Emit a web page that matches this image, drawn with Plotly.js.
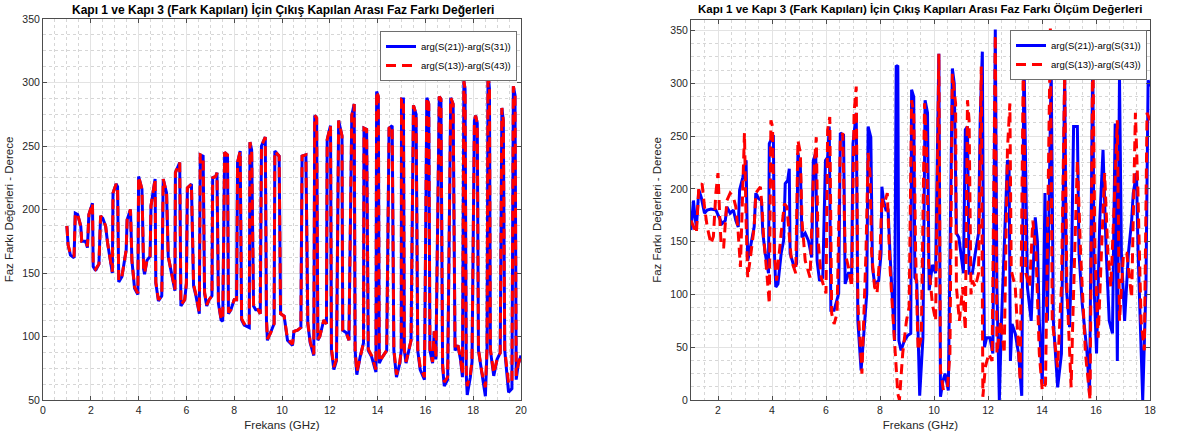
<!DOCTYPE html>
<html>
<head>
<meta charset="utf-8">
<script src="https://cdn.plot.ly/plotly-3.0.1.min.js"></script>
<style>html,body{margin:0;padding:0;background:#fff;}#chart{width:1184px;height:436px;}</style>
</head>
<body>
<div id="chart"></div>
<script>
// ---------- Left panel (simulation) ----------
const freqLeft = [1.00,1.05,1.15,1.30,1.35,1.45,1.58,1.62,1.78,1.86,1.92,2.07,2.10,2.20,2.34,2.41,2.50,2.62,2.70,2.90,2.93,3.06,3.12,3.17,3.30,3.42,3.48,3.52,3.66,3.72,3.83,3.97,4.00,4.14,4.21,4.25,4.35,4.48,4.52,4.69,4.72,4.83,4.97,5.03,5.17,5.24,5.52,5.54,5.72,5.77,5.93,6.00,6.04,6.21,6.30,6.40,6.54,6.58,6.70,6.76,6.85,6.95,7.07,7.10,7.23,7.28,7.34,7.45,7.52,7.60,7.72,7.76,7.86,8.00,8.10,8.14,8.25,8.31,8.42,8.63,8.66,8.73,8.81,8.90,9.00,9.09,9.14,9.30,9.35,9.39,9.53,9.67,9.70,9.88,9.94,10.09,10.23,10.44,10.50,10.65,10.79,10.84,11.00,11.08,11.18,11.33,11.37,11.45,11.50,11.58,11.75,11.86,11.89,12.03,12.07,12.17,12.28,12.37,12.51,12.54,12.69,12.80,12.92,13.02,13.06,13.13,13.27,13.41,13.43,13.54,13.61,13.75,13.93,13.96,14.03,14.07,14.17,14.38,14.48,14.61,14.68,14.79,14.93,14.99,15.00,15.08,15.12,15.19,15.40,15.50,15.61,15.68,15.78,15.96,16.06,16.14,16.19,16.30,16.37,16.44,16.58,16.65,16.72,16.79,16.93,17.06,17.16,17.24,17.36,17.47,17.55,17.61,17.66,17.71,17.75,17.88,17.95,18.05,18.10,18.17,18.22,18.36,18.51,18.58,18.62,18.68,18.72,18.86,19.00,19.13,19.20,19.26,19.32,19.48,19.62,19.68,19.75,19.80,19.88,20.00];
const simS21S31 = [187,172,164,162,197,196,187,175,175,170,196,205,155,152,157,195,193,187,174,150,213,220,218,143,147,159,168,192,200,160,138,133,226,216,153,149,160,163,203,224,142,128,132,224,213,163,136,229,237,124,129,142,217,220,140,132,118,243,242,134,124,129,132,225,226,229,126,113,112,245,243,118,121,129,129,237,246,113,109,107,253,247,124,121,121,118,250,257,113,97,103,110,246,242,118,116,97,93,104,105,107,242,243,110,95,85,274,272,97,100,113,110,255,266,89,74,81,270,258,105,103,97,274,283,89,70,84,95,264,263,89,84,72,293,289,79,83,89,264,266,89,68,79,89,287,287,89,79,97,282,275,89,74,66,288,283,89,79,104,82,289,287,76,61,66,288,283,89,93,82,68,301,295,70,54,68,80,270,274,268,89,70,53,90,308,295,89,69,82,87,280,270,89,56,59,297,290,66,78,85];
const simS13S43 = [187,172,165,163,197,196,187,175,175,171,196,205,156,153,157,195,193,187,174,151,213,220,218,144,147,159,168,192,200,160,139,134,226,216,154,150,160,163,203,224,143,129,132,224,213,163,137,229,237,125,129,142,217,220,141,133,119,243,242,135,125,129,132,225,226,229,127,114,113,245,243,119,121,129,129,237,246,114,110,108,253,247,124,121,121,118,250,257,114,98,103,110,246,242,118,116,98,94,104,105,107,242,243,111,96,86,274,272,98,100,113,110,255,266,90,76,82,270,258,105,103,97,274,283,90,72,84,95,264,263,90,85,74,293,289,80,83,89,264,266,90,70,80,89,287,287,90,80,97,282,275,90,76,68,288,283,90,80,104,83,289,287,78,64,68,288,283,90,93,83,70,301,295,72,61,70,81,270,274,268,90,72,60,91,308,295,90,71,82,87,280,270,90,63,64,297,290,69,78,85];

// ---------- Right panel (measurement) ----------
const freqMeasA = [1.00,1.09,1.15,1.20,1.29,1.38,1.50,1.60,1.74,1.92,2.04,2.15,2.27,2.33,2.45,2.57,2.66,2.75,2.80,2.92,3.04,3.10,3.18,3.28,3.34,3.40,3.50,3.61,3.66,3.75,3.87,3.90,4.05,4.09,4.14,4.22,4.34,4.43,4.49,4.58,4.64,4.67,4.82,4.91,4.96,5.05,5.11,5.23,5.35,5.47,5.53,5.62,5.67,5.76,5.88,5.98,6.06,6.12,6.18,6.30,6.41,6.47,6.53,6.65,6.71,6.83,6.95,7.00,7.12,7.18,7.30,7.42,7.51,7.56,7.66,7.72,7.80,7.95,8.04,8.07,8.13,8.22,8.30,8.37,8.49,8.54,8.60,8.66,8.70,8.78,8.90,9.02,9.14,9.17,9.25,9.29,9.36,9.47,9.59,9.67,9.76,9.82,9.94,10.06,10.18,10.24,10.33,10.41,10.53,10.60,10.68,10.75,10.83,10.92,11.00,11.09,11.16,11.24,11.30,11.42,11.53,11.65,11.71,11.79,11.83,11.87,11.95,12.07,12.18,12.27,12.33,12.42,12.50,12.72,12.78,12.83,12.89,13.01,13.13,13.25,13.33,13.40,13.46,13.60,13.75,13.83,13.90,14.01,14.11,14.20,14.34,14.42,14.58,14.72,14.84,14.90,15.02,15.10,15.17,15.31,15.37,15.49,15.67,15.76,15.88,15.93,16.02,16.14,16.26,16.38,16.49,16.61,16.71,16.79,16.87,16.94,17.06,17.20,17.32,17.38,17.50,17.56,17.65,17.73,17.85,17.93,18.00];
const measS21S31 = [161,189,173,164,199,192,177,180,181,180,173,167,170,183,177,180,170,164,199,211,227,132,142,158,164,196,191,189,158,139,120,243,251,139,107,110,139,151,205,208,219,139,126,129,234,221,154,158,151,135,227,234,132,113,116,227,230,259,85,85,94,101,253,251,110,120,120,243,272,75,28,75,101,259,249,126,110,113,139,202,189,180,180,139,82,56,316,317,56,47,56,61,63,294,287,116,113,4,59,284,272,104,128,120,328,3,18,25,9,170,314,300,158,154,139,120,256,259,120,120,139,158,265,330,150,50,59,59,44,351,107,0,75,227,225,37,72,63,44,4,330,200,107,75,173,150,75,15,196,75,316,75,12,44,309,107,69,139,259,259,139,91,44,6,328,107,44,170,237,139,75,63,262,37,306,139,75,139,170,196,215,139,75,0,107,303,297];
const freqMeasB = [1.00,1.09,1.20,1.29,1.41,1.50,1.60,1.74,1.83,1.92,2.00,2.07,2.12,2.21,2.30,2.33,2.45,2.57,2.66,2.75,2.83,2.90,2.98,3.04,3.10,3.22,3.34,3.40,3.57,3.63,3.69,3.81,3.90,3.96,4.02,4.09,4.17,4.34,4.46,4.55,4.64,4.72,4.88,4.96,5.05,5.11,5.23,5.41,5.53,5.64,5.70,5.82,6.00,6.06,6.14,6.21,6.30,6.41,6.53,6.62,6.71,6.83,6.95,7.04,7.12,7.18,7.33,7.48,7.56,7.63,7.69,7.80,7.89,8.00,8.07,8.13,8.27,8.30,8.37,8.49,8.66,8.72,8.84,8.98,9.08,9.17,9.25,9.32,9.41,9.53,9.65,9.73,9.80,9.94,10.06,10.18,10.24,10.35,10.50,10.59,10.68,10.80,10.83,10.94,11.06,11.16,11.24,11.30,11.37,11.42,11.53,11.65,11.75,11.81,11.90,12.03,12.15,12.27,12.33,12.47,12.60,12.72,12.81,12.86,13.01,13.19,13.31,13.40,13.54,13.66,13.78,13.90,14.01,14.13,14.31,14.38,14.58,14.72,14.84,14.92,15.08,15.14,15.31,15.43,15.61,15.78,15.88,15.96,16.08,16.20,16.32,16.44,16.55,16.67,16.79,16.87,17.02,17.14,17.32,17.46,17.55,17.67,17.79,17.89,18.00];
const measS13S43 = [170,164,158,202,205,183,164,148,155,196,215,170,145,145,183,189,196,192,183,158,126,189,253,170,116,139,164,196,202,183,154,120,91,265,259,139,113,158,186,183,151,132,120,246,234,170,132,116,208,249,154,116,101,256,268,82,72,82,246,253,139,126,107,272,297,91,25,139,234,215,139,107,101,139,192,183,196,170,126,75,6,0,44,75,88,284,272,139,47,59,281,235,130,91,75,328,28,9,12,44,309,281,107,75,107,66,284,265,100,113,107,120,316,3,31,44,37,346,44,75,44,237,281,123,107,18,328,120,107,170,139,44,9,15,352,75,31,107,309,107,12,75,227,139,44,0,344,139,59,139,215,139,107,183,265,75,139,139,97,272,200,75,47,272,265];

const xTickLeft = [0,2,4,6,8,10,12,14,16,18,20];
const yTickLeft = [50,100,150,200,250,300,350];
const xTickRight = [2,4,6,8,10,12,14,16,18];
const yTickRight = [0,50,100,150,200,250,300,350];

const titleLeft = 'Kapı 1 ve Kapı 3 (Fark Kapıları) İçin Çıkış Kapılan Arası Faz Farkı Değerleri';
const titleRight = 'Kapı 1 ve Kapı 3 (Fark Kapıları) İçin Çıkış Kapıları Arası Faz Farkı Ölçüm Değerleri';
const nameA = 'arg(S(21))-arg(S(31))';
const nameB = 'arg(S(13))-arg(S(43))';

const FONT = 'Liberation Sans, Arial, Helvetica, sans-serif';
const BLUE = '#0000ff', RED = '#ff0000';
const DASH = '10px,6px';

const traces = [
  {x: freqLeft, y: simS21S31, name: nameA, type: 'scatter', mode: 'lines', line: {color: BLUE, width: 3}, xaxis: 'x', yaxis: 'y', legend: 'legend'},
  {x: freqLeft, y: simS13S43, name: nameB, type: 'scatter', mode: 'lines', line: {color: RED, width: 3, dash: DASH}, xaxis: 'x', yaxis: 'y', legend: 'legend'},
  {x: freqMeasA, y: measS21S31, name: nameA, type: 'scatter', mode: 'lines', line: {color: BLUE, width: 3}, xaxis: 'x2', yaxis: 'y2', legend: 'legend2'},
  {x: freqMeasB, y: measS13S43, name: nameB, type: 'scatter', mode: 'lines', line: {color: RED, width: 3, dash: DASH}, xaxis: 'x2', yaxis: 'y2', legend: 'legend2'}
];

function axis(extra) {
  return Object.assign({
    showline: true, linecolor: '#4d4d4d', linewidth: 1, mirror: 'ticks',
    ticks: 'inside', ticklen: 4, tickcolor: '#4d4d4d',
    showgrid: true, gridcolor: '#e3e3e3', gridwidth: 1,
    zeroline: false,
    tickfont: {family: FONT, size: 10.5, color: '#262626'}
  }, extra);
}
const minorGrid = (dt, t0) => ({showgrid: true, gridcolor: '#d6d6d6', griddash: 'dot', gridwidth: 1, dtick: dt, tick0: t0, ticks: ''});
const axTitle = (t, so) => ({text: t, font: {family: FONT, size: 11.5, color: '#262626'}, standoff: so});

const W = 1184, H = 436;
const layout = {
  width: W, height: H,
  margin: {l: 0, r: 0, t: 0, b: 0},
  paper_bgcolor: '#ffffff', plot_bgcolor: '#ffffff',
  font: {family: FONT, color: '#262626'},
  showlegend: true,
  xaxis: axis({domain: [43/W, 521/W], range: [0, 20], tickvals: xTickLeft, anchor: 'y',
    minor: minorGrid(0.5, 0), title: axTitle('Frekans (GHz)', 6)}),
  yaxis: axis({domain: [(H-400)/H, (H-19)/H], range: [50, 350], tickvals: yTickLeft, anchor: 'x',
    minor: minorGrid(12.5, 50), title: axTitle('Faz Farkı Değerleri - Derece', 6)}),
  xaxis2: axis({domain: [691/W, 1150/W], range: [1, 18], tickvals: xTickRight, anchor: 'y2',
    minor: minorGrid(0.5, 0), title: axTitle('Frekans (GHz)', 6)}),
  yaxis2: axis({domain: [(H-400)/H, (H-20)/H], range: [0, 360], tickvals: yTickRight, anchor: 'x2',
    minor: minorGrid(12.5, 0), title: axTitle('Faz Farkı Değerleri - Derece', 6)}),
  legend: {x: 517/W, xanchor: 'right', y: (H-31)/H, yanchor: 'top', bgcolor: '#ffffff', bordercolor: '#6e6e6e', borderwidth: 1,
    font: {family: FONT, size: 9.5, color: '#000'}, tracegroupgap: 0, itemwidth: 30},
  legend2: {x: 1147/W, xanchor: 'right', y: (H-30)/H, yanchor: 'top', bgcolor: '#ffffff', bordercolor: '#6e6e6e', borderwidth: 1,
    font: {family: FONT, size: 9.5, color: '#000'}, tracegroupgap: 0, itemwidth: 30},
  annotations: [
    {text: '<b>' + titleLeft + '</b>', xref: 'paper', yref: 'paper', x: 283/W, y: (H-9)/H, xanchor: 'center', yanchor: 'middle', showarrow: false,
      font: {family: FONT, size: 12, color: '#000'}},
    {text: '<b>' + titleRight + '</b>', xref: 'paper', yref: 'paper', x: 920/W, y: (H-9)/H, xanchor: 'center', yanchor: 'middle', showarrow: false,
      font: {family: FONT, size: 11.5, color: '#000'}}
  ]
};

Plotly.newPlot('chart', traces, layout, {staticPlot: true, displayModeBar: false});
</script>
</body>
</html>
